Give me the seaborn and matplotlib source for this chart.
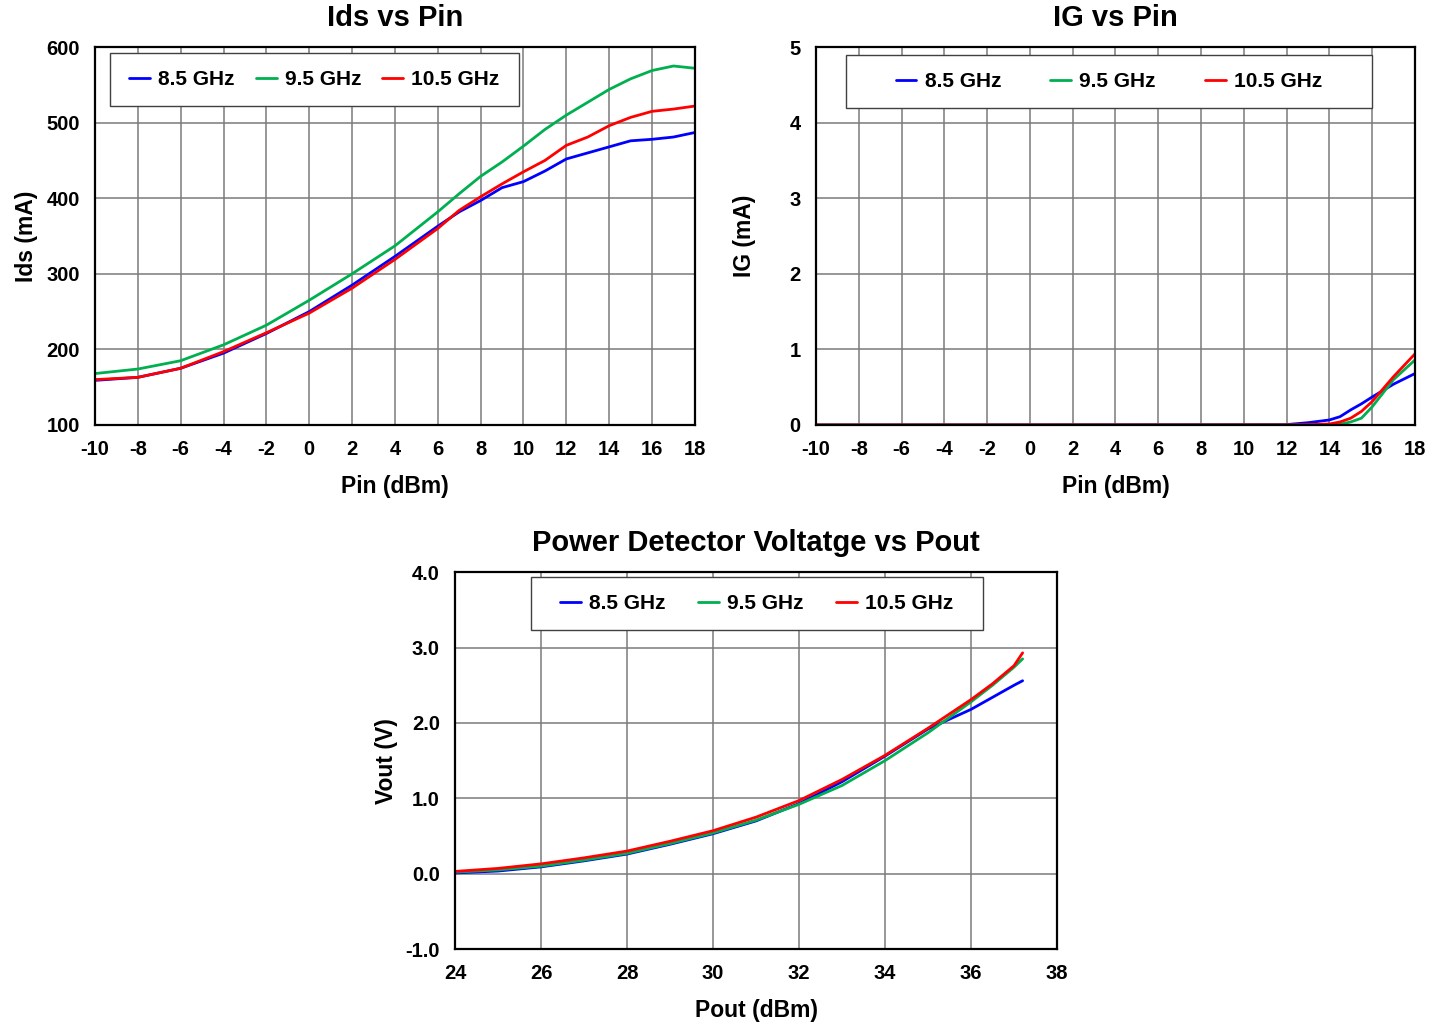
import numpy as np
import pandas as pd
import seaborn as sns
import matplotlib.pyplot as plt
from matplotlib.patches import Rectangle
from matplotlib.ticker import FormatStrFormatter

# ---- data ----
freqs = ['8.5 GHz', '9.5 GHz', '10.5 GHz']
colors = ['#0000FF', '#00B050', '#FF0000']

pin = [-10, -8, -6, -4, -2, 0, 2, 4, 6, 7, 8, 9, 10, 11, 12, 13, 14, 15, 16, 17, 18]
ids_85 = [159, 163, 175, 195, 221, 250, 285, 323, 363, 382, 397, 414, 422, 436, 452, 460, 468, 476, 478, 481, 487]
ids_95 = [168, 174, 185, 206, 232, 265, 300, 337, 382, 406, 429, 448, 469, 491, 510, 527, 544, 558, 569, 575, 572]
ids_105 = [160, 163, 175, 197, 222, 248, 281, 319, 360, 384, 402, 419, 435, 450, 470, 481, 496, 507, 515, 518, 522]

pin_ig = [-10, 12, 13, 14, 14.5, 15, 15.5, 16, 17, 18]
ig_85 = [0.0, 0.005, 0.03, 0.066, 0.11, 0.2, 0.28, 0.37, 0.54, 0.68]
ig_95 = [0.0, 0.0, 0.0, 0.003, 0.01, 0.04, 0.09, 0.24, 0.6, 0.86]
ig_105 = [0.0, 0.0, 0.004, 0.013, 0.04, 0.09, 0.18, 0.31, 0.64, 0.94]

pout = [24, 25, 26, 27, 28, 29, 30, 31, 32, 33, 34, 35, 36, 36.5, 37, 37.2]
vout_85 = [0.01, 0.035, 0.09, 0.17, 0.26, 0.39, 0.53, 0.70, 0.93, 1.22, 1.56, 1.92, 2.18, 2.34, 2.50, 2.56]
vout_95 = [0.02, 0.05, 0.10, 0.18, 0.27, 0.40, 0.54, 0.71, 0.92, 1.17, 1.50, 1.87, 2.28, 2.50, 2.74, 2.85]
vout_105 = [0.03, 0.07, 0.13, 0.21, 0.30, 0.43, 0.57, 0.75, 0.97, 1.25, 1.57, 1.93, 2.31, 2.52, 2.76, 2.93]


def to_long(x, series, xname, yname):
    frames = []
    for f, ys in zip(freqs, series):
        frames.append(pd.DataFrame({xname: x, yname: ys, 'freq': f}))
    return pd.concat(frames, ignore_index=True)


sns.set_style('white')
plt.rcParams['font.family'] = ['Liberation Sans', 'DejaVu Sans']
plt.rcParams['font.weight'] = 'bold'
plt.rcParams['axes.unicode_minus'] = False
plt.rcParams['text.color'] = 'black'
plt.rcParams['axes.labelcolor'] = 'black'
plt.rcParams['xtick.color'] = 'black'
plt.rcParams['ytick.color'] = 'black'

fig = plt.figure(figsize=(14.45, 10.24), dpi=100)
ax1 = fig.add_axes([0.0657, 0.585, 0.4152, 0.369])
ax2 = fig.add_axes([0.5647, 0.585, 0.4145, 0.369])
ax3 = fig.add_axes([0.3149, 0.0732, 0.4166, 0.368])

palette = dict(zip(freqs, colors))


def style_axes(ax, title, xlabel, ylabel, xlim, ylim, xstep, ystep, ylabelpad, box, colsp, yfmt=None):
    ax.set_xlim(*xlim)
    ax.set_ylim(*ylim)
    ax.set_xticks(np.arange(xlim[0], xlim[1] + 0.01, xstep))
    ax.set_yticks(np.arange(ylim[0], ylim[1] + 0.01, ystep))
    if yfmt:
        ax.yaxis.set_major_formatter(FormatStrFormatter(yfmt))
    ax.grid(True, color='#7a7a7a', linewidth=1.1)
    ax.set_axisbelow(True)
    for s in ax.spines.values():
        s.set_color('black')
        s.set_linewidth(1.6)
    ax.tick_params(length=0, pad=11, labelsize=14.5)
    for lab in ax.get_xticklabels() + ax.get_yticklabels():
        lab.set_fontweight('bold')
    ax.set_title(title, fontsize=21, fontweight='bold', pad=15)
    ax.set_xlabel(xlabel, fontsize=16.5, fontweight='bold', labelpad=11.5)
    ax.set_ylabel(ylabel, fontsize=16.5, fontweight='bold', labelpad=ylabelpad)

    # legend frame drawn as a box, entries centred inside it
    x0, y0, w, h = box
    ax.add_patch(Rectangle((x0, y0), w, h, transform=ax.transAxes, facecolor='white',
                           edgecolor='#404040', linewidth=1.0, zorder=4))
    handles, labels = ax.get_legend_handles_labels()
    leg = ax.legend(handles, labels, loc='center', bbox_to_anchor=(x0 + w / 2, y0 + h / 2),
                    ncol=3, fontsize=15, frameon=False, handlelength=1.0, handletextpad=0.4,
                    columnspacing=colsp, borderpad=0, borderaxespad=0)
    for t in leg.get_texts():
        t.set_fontweight('bold')
    for l in leg.get_lines():
        l.set_linewidth(2.0)
    leg.set_zorder(5)


df1 = to_long(pin, [ids_85, ids_95, ids_105], 'Pin', 'Ids')
sns.lineplot(data=df1, x='Pin', y='Ids', hue='freq', palette=palette, linewidth=2.0,
             errorbar=None, ax=ax1)
style_axes(ax1, 'Ids vs Pin', 'Pin (dBm)', 'Ids (mA)', (-10, 18), (100, 600), 2, 100,
           6, (0.025, 0.844, 0.682, 0.140), 1.0)

df2 = to_long(pin_ig, [ig_85, ig_95, ig_105], 'Pin', 'IG')
sns.lineplot(data=df2, x='Pin', y='IG', hue='freq', palette=palette, linewidth=2.0,
             errorbar=None, ax=ax2)
style_axes(ax2, 'IG vs Pin', 'Pin (dBm)', 'IG (mA)', (-10, 18), (0, 5), 2, 1,
           24, (0.05, 0.839, 0.878, 0.140), 2.35)

df3 = to_long(pout, [vout_85, vout_95, vout_105], 'Pout', 'Vout')
sns.lineplot(data=df3, x='Pout', y='Vout', hue='freq', palette=palette, linewidth=2.0,
             errorbar=None, ax=ax3)
style_axes(ax3, 'Power Detector Voltatge vs Pout', 'Pout (dBm)', 'Vout (V)', (24, 38), (-1, 4), 2, 1,
           5, (0.126, 0.846, 0.751, 0.141), 1.55, yfmt='%.1f')

fig.savefig('out.png', dpi=100)
